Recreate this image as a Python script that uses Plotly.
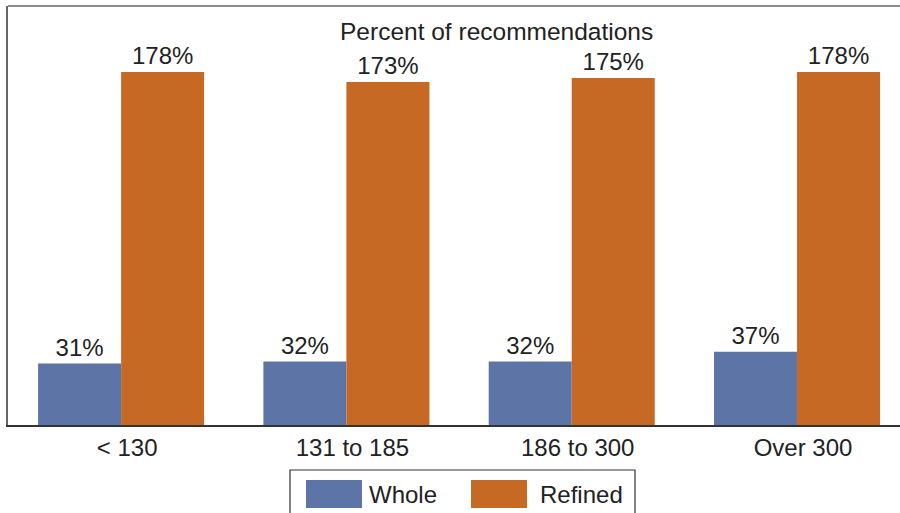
import plotly.graph_objects as go

categories = ["< 130", "131 to 185", "186 to 300", "Over 300"]
whole = [31, 32, 32, 37]
refined = [178, 173, 175, 178]
series_names = ["Whole", "Refined"]
title_text = "Percent of recommendations"

BLUE = "rgb(92,116,166)"
ORANGE = "rgb(197,105,36)"
FONT = "Liberation Sans, Arial, Helvetica, sans-serif"
FS = 24

fig = go.Figure()
fig.add_trace(go.Bar(x=categories, y=whole, name=series_names[0], marker_color=BLUE,
                     marker_line_width=0, text=[f"{v}%" for v in whole],
                     textposition="outside", cliponaxis=False,
                     textfont=dict(size=FS, color="#222", family=FONT)))
fig.add_trace(go.Bar(x=categories, y=refined, name=series_names[1], marker_color=ORANGE,
                     marker_line_width=0, text=[f"{v}%" for v in refined],
                     textposition="outside", cliponaxis=False,
                     textfont=dict(size=FS, color="#222", family=FONT)))

W, H = 900, 513
L, T, B = 8, 6, 88
R = 0

def px(x):
    return (x - L) / (W - L - R)

def py(y):
    return (H - B - y) / (H - B - T)

fig.update_layout(
    width=W, height=H,
    margin=dict(l=L, r=R, t=T, b=B),
    paper_bgcolor="white", plot_bgcolor="white",
    barmode="group", bargap=0.263, bargroupgap=0,
    showlegend=False,
    font=dict(family=FONT, size=FS, color="#222"),
    xaxis=dict(range=[-0.502, 3.457], showline=True, linecolor="#333", linewidth=1.5,
               mirror=False, ticks="", showgrid=False, ticklabelshift=6,
               tickfont=dict(size=FS, color="#222")),
    yaxis=dict(range=[0, 211.3], showline=True, linecolor="#666", linewidth=1.5,
               showticklabels=False, ticks="", showgrid=False, zeroline=False),
)

# top frame line
fig.add_shape(type="line", xref="paper", yref="paper", x0=0, x1=1, y0=1, y1=1,
              line=dict(color="#666", width=1.5))

# title
fig.add_annotation(text=title_text, xref="paper", yref="paper", x=px(496), y=py(32),
                   showarrow=False, font=dict(size=24.5, color="#222", family=FONT),
                   xanchor="center", yanchor="middle")

# legend box
fig.add_shape(type="rect", xref="paper", yref="paper", x0=px(290), x1=px(635),
              y0=py(520), y1=py(470), line=dict(color="#333", width=1.2),
              fillcolor="white")
fig.add_shape(type="rect", xref="paper", yref="paper", x0=px(306), x1=px(362),
              y0=py(508), y1=py(480), line=dict(width=0), fillcolor=BLUE)
fig.add_shape(type="rect", xref="paper", yref="paper", x0=px(471), x1=px(527),
              y0=py(508), y1=py(480), line=dict(width=0), fillcolor=ORANGE)
fig.add_annotation(text=series_names[0], xref="paper", yref="paper", x=px(367), y=py(494),
                   showarrow=False, xanchor="left", yanchor="middle",
                   font=dict(size=FS, color="#222", family=FONT))
fig.add_annotation(text=series_names[1], xref="paper", yref="paper", x=px(538), y=py(494),
                   showarrow=False, xanchor="left", yanchor="middle",
                   font=dict(size=FS, color="#222", family=FONT))

fig.write_html("out.html", config={"displayModeBar": False},
               post_script="document.body.style.margin='0px';document.body.style.overflow='hidden';")
